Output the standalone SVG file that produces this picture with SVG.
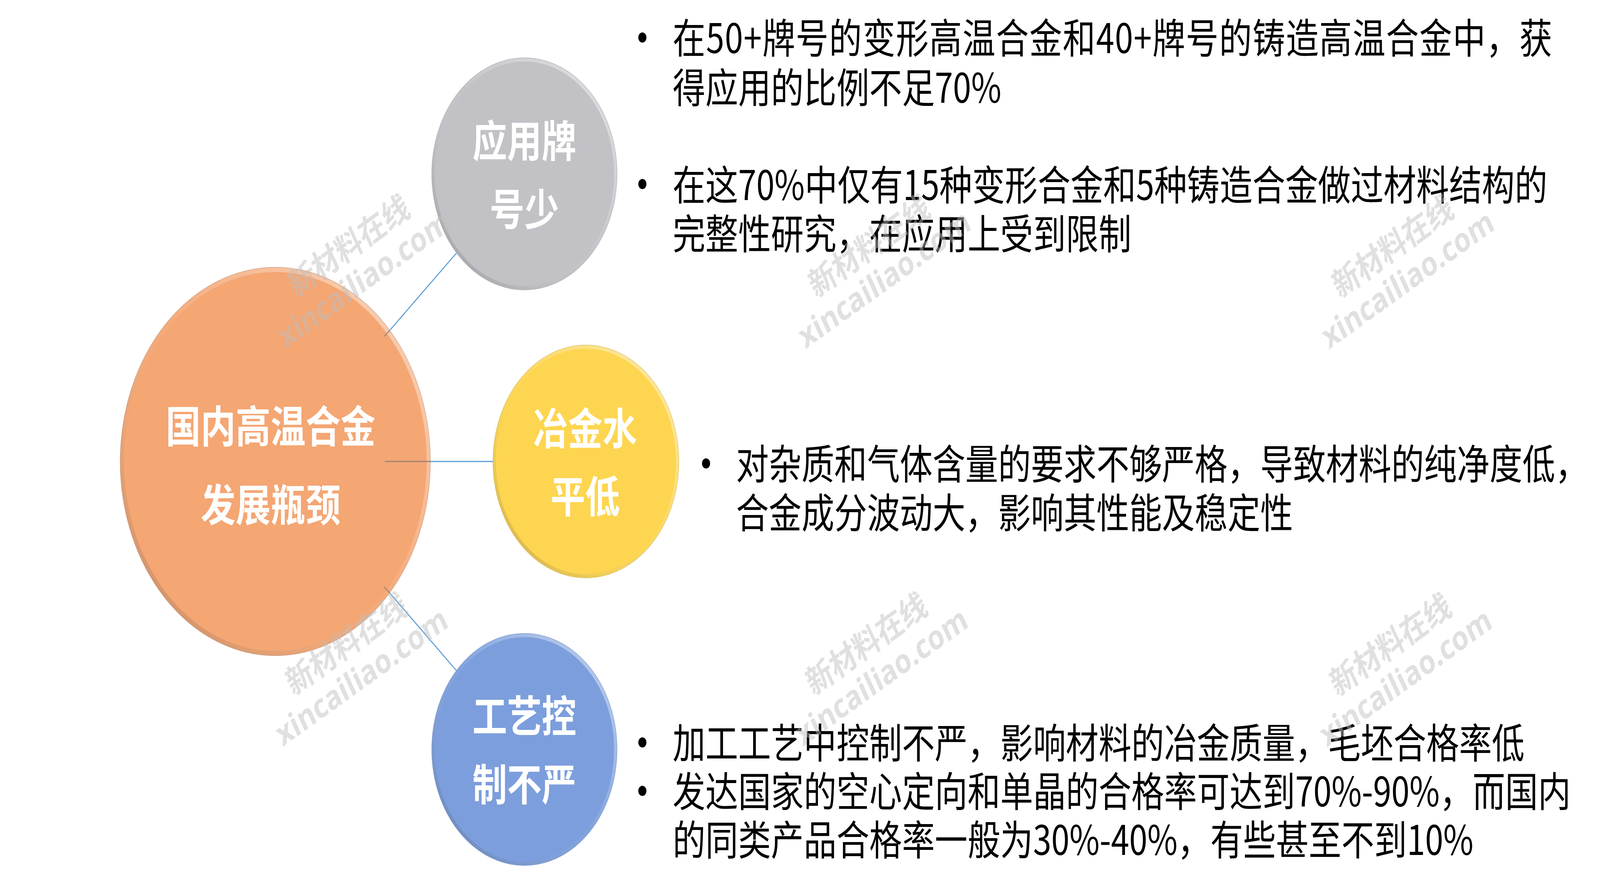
<svg xmlns="http://www.w3.org/2000/svg" width="5126" height="2270" viewBox="0 0 5126 2270" preserveAspectRatio="none">
<defs>
<linearGradient id="rim" x1="1" y1="0" x2="0" y2="1">
<stop offset="0" stop-color="#ffffff" stop-opacity="0.55"/>
<stop offset="0.5" stop-color="#ffffff" stop-opacity="0.05"/>
<stop offset="1" stop-color="#000000" stop-opacity="0.22"/>
</linearGradient>
<style>
svg{width:100vw;height:100vh}
.bg{fill:#ffffff}
.ctext{font-family:"Noto Sans CJK SC","Noto Sans",sans-serif;font-weight:700;fill:#ffffff;text-anchor:middle}
.big{font-size:112px}
.mid{font-size:111px}
.body{font-family:"Noto Sans CJK SC","Noto Sans",sans-serif;font-size:105px;fill:#000000}
.dot{fill:#000000}
.rimring{fill:none;stroke:url(#rim)}
.edge{fill:none;stroke-opacity:0.35;stroke-width:2}
.conn{stroke:#5B9BD5;stroke-width:3;fill:none}
.conn-in{stroke:#9a8576;stroke-width:3;fill:none}
.wm{font-family:"Noto Sans CJK SC","Open Sans",sans-serif;font-weight:700;font-size:86px;fill:#bebebe;fill-opacity:0.48;text-anchor:middle}
.wml{font-family:"Open Sans","Noto Sans",sans-serif;font-weight:700;font-size:86px;fill:#bebebe;fill-opacity:0.48;text-anchor:middle}
</style>
</defs>
<rect class="bg" x="0" y="0" width="5126" height="2270"/>

<g id="node-main">
<circle cx="882" cy="1181" r="497" fill="#F4A673"/>
<circle class="rimring" cx="882" cy="1181" r="491" stroke-width="12"/>
<circle class="edge" cx="882" cy="1181" r="497" stroke="#a0684a"/>
<text class="ctext big" x="867" y="1133">国内高温合金</text>
<text class="ctext big" x="867" y="1334">发展瓶颈</text>
</g>

<g id="node-brand">
<circle cx="1680" cy="445" r="297" fill="#C1C1C6"/>
<circle class="rimring" cx="1680" cy="445" r="292" stroke-width="9"/>
<circle class="edge" cx="1680" cy="445" r="297" stroke="#8a8a90"/>
<text class="ctext mid" x="1680" y="402">应用牌</text>
<text class="ctext mid" x="1680" y="577">号少</text>
</g>

<g id="node-metallurgy">
<circle cx="1877" cy="1181" r="298" fill="#FDD550"/>
<circle class="rimring" cx="1877" cy="1181" r="293" stroke-width="9"/>
<circle class="edge" cx="1877" cy="1181" r="298" stroke="#b89a40"/>
<text class="ctext mid" x="1875" y="1138">冶金水</text>
<text class="ctext mid" x="1875" y="1312">平低</text>
</g>

<g id="node-process">
<circle cx="1680" cy="1918" r="297" fill="#7C9EDC"/>
<circle class="rimring" cx="1680" cy="1918" r="292" stroke-width="9"/>
<circle class="edge" cx="1680" cy="1918" r="297" stroke="#5a78b0"/>
<text class="ctext mid" x="1680" y="1874">工艺控</text>
<text class="ctext mid" x="1680" y="2049">制不严</text>
</g>

<g id="connectors">
<line class="conn-in" x1="1231" y1="861" x2="1248" y2="846"/>
<line class="conn" x1="1248" y1="846" x2="1462" y2="648"/>
<line class="conn-in" x1="1233" y1="1181" x2="1379" y2="1181"/>
<line class="conn" x1="1379" y1="1181" x2="1579" y2="1181"/>
<line class="conn-in" x1="1231" y1="1502" x2="1248" y2="1517"/>
<line class="conn" x1="1248" y1="1517" x2="1462" y2="1716"/>
</g>

<g id="text-brand">
<circle class="dot" cx="2058" cy="96" r="13"/>
<text class="body" x="2155" y="136" textLength="2818" lengthAdjust="spacing">在50+牌号的变形高温合金和40+牌号的铸造高温合金中，获</text>
<text class="body" x="2155" y="263">得应用的比例不足70%</text>
<circle class="dot" cx="2058" cy="471" r="13"/>
<text class="body" x="2155" y="512">在这70%中仅有15种变形合金和5种铸造合金做过材料结构的</text>
<text class="body" x="2155" y="637">完整性研究，在应用上受到限制</text>
</g>

<g id="text-metallurgy">
<circle class="dot" cx="2262" cy="1186" r="13"/>
<text class="body" x="2358" y="1226">对杂质和气体含量的要求不够严格，导致材料的纯净度低，</text>
<text class="body" x="2358" y="1351">合金成分波动大，影响其性能及稳定性</text>
</g>

<g id="text-process">
<circle class="dot" cx="2058" cy="1900" r="13"/>
<text class="body" x="2155" y="1940">加工工艺中控制不严，影响材料的冶金质量，毛坯合格率低</text>
<circle class="dot" cx="2058" cy="2024" r="13"/>
<text class="body" x="2155" y="2064">发达国家的空心定向和单晶的合格率可达到70%-90%，而国内</text>
<text class="body" x="2155" y="2188">的同类产品合格率一般为30%-40%，有些甚至不到10%</text>
</g>

<g id="watermarks">
<g transform="translate(1118,630) rotate(-30)"><text class="wm" x="0" y="30">新材料在线</text><text class="wml" x="0" y="126">xincailiao.com</text></g>
<g transform="translate(2785,630) rotate(-30)"><text class="wm" x="0" y="30">新材料在线</text><text class="wml" x="0" y="126">xincailiao.com</text></g>
<g transform="translate(4462,631) rotate(-30)"><text class="wm" x="0" y="30">新材料在线</text><text class="wml" x="0" y="126">xincailiao.com</text></g>
<g transform="translate(1110,1648) rotate(-30)"><text class="wm" x="0" y="30">新材料在线</text><text class="wml" x="0" y="126">xincailiao.com</text></g>
<g transform="translate(2776,1648) rotate(-30)"><text class="wm" x="0" y="30">新材料在线</text><text class="wml" x="0" y="126">xincailiao.com</text></g>
<g transform="translate(4455,1650) rotate(-30)"><text class="wm" x="0" y="30">新材料在线</text><text class="wml" x="0" y="126">xincailiao.com</text></g>
</g>
</svg>
